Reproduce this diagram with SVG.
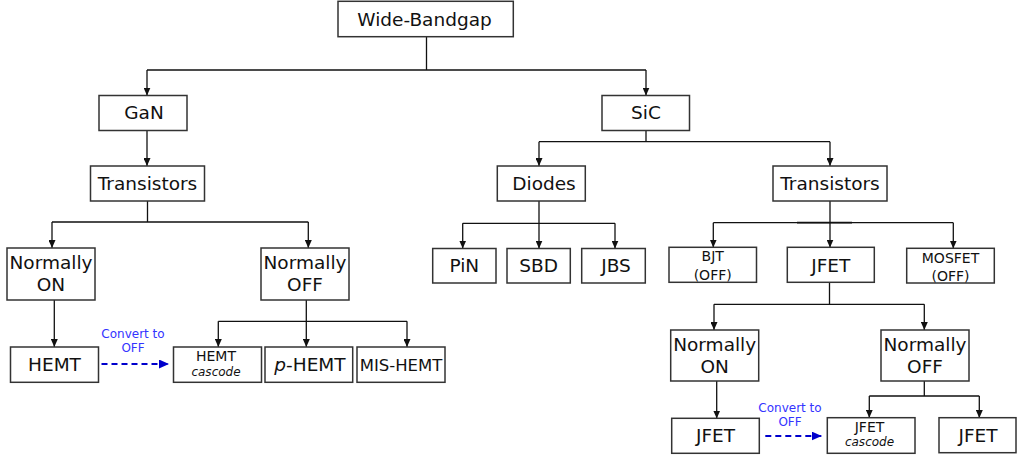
<svg xmlns="http://www.w3.org/2000/svg" width="1017" height="456" viewBox="0 0 1017 456">
<style>
.box{fill:#fff;stroke:#333;stroke-width:1.5}
.t{font-family:"DejaVu Sans",Verdana,sans-serif;font-size:18.5px;fill:#111;text-anchor:middle}
.s{font-size:14px}
.xs{font-size:12px;font-style:italic}
.c{stroke:#111;stroke-width:1.3;fill:none}
.a{marker-end:url(#ah)}
.d{stroke:#0000cc;stroke-width:2;fill:none;stroke-dasharray:6 4;marker-end:url(#bh)}
.bl{font-family:"DejaVu Sans",Verdana,sans-serif;font-size:12px;fill:#3333ff;text-anchor:middle}
</style>
<defs>
<marker id="ah" markerUnits="userSpaceOnUse" markerWidth="8" markerHeight="7" refX="8" refY="3.5" orient="auto"><path d="M0,0 L8,3.5 L0,7 z" fill="#111"/></marker>
<marker id="bh" markerUnits="userSpaceOnUse" markerWidth="10" markerHeight="9" refX="10" refY="4.5" orient="auto"><path d="M0,0 L10,4.5 L0,9 z" fill="#0000cc"/></marker>
</defs>
<rect width="1017" height="456" fill="#fff"/>
<g id="connectors">
<path class="c" d="M426.5,37 V70 M147,70 H646"/>
<path class="c a" d="M147,70 V95.5"/>
<path class="c a" d="M646,70 V95.5"/>
<path class="c a" d="M147,130.5 V166"/>
<path class="c" d="M646,130.5 V141.7 M539,141.7 H830"/>
<path class="c a" d="M539,141.7 V166"/>
<path class="c a" d="M830,141.7 V166"/>
<path class="c" d="M147.5,201 V222 M52,222 H308.3"/>
<path class="c a" d="M52,222 V248"/>
<path class="c a" d="M308.3,222 V248"/>
<path class="c a" d="M54.3,300 V347"/>
<path class="c" d="M306.3,300 V321.3 M218.3,321.3 H407"/>
<path class="c a" d="M218.3,321.3 V347"/>
<path class="c a" d="M306.3,321.3 V347"/>
<path class="c a" d="M407,321.3 V347"/>
<path class="c" d="M539,201 V223.3 M462.7,223.3 H615"/>
<path class="c a" d="M462.7,223.3 V248.5"/>
<path class="c a" d="M539,223.3 V248.5"/>
<path class="c a" d="M615,223.3 V248.5"/>
<path class="c" d="M830,201 V222.7 M713.3,222.7 H953.3"/>
<path class="c" style="stroke-width:1.7" d="M797,222.7 H852"/>
<path class="c a" d="M713.3,222.7 V247.5"/>
<path class="c a" d="M830,222.7 V247.5"/>
<path class="c a" d="M953.3,222.7 V248.5"/>
<path class="c" d="M829.5,282.5 V304.3 M714,304.3 H924.3"/>
<path class="c a" d="M714,304.3 V330"/>
<path class="c a" d="M924.3,304.3 V330"/>
<path class="c a" d="M716.7,381 V418.5"/>
<path class="c" d="M924.3,381 V396 M869.3,396 H979.3"/>
<path class="c a" d="M869.3,396 V417.7"/>
<path class="c a" d="M979.3,396 V418"/>
<path class="d" d="M101.5,364 H169"/>
<path class="d" d="M765.3,436 H821.7"/>
<text class="bl" x="133" y="337.6">Convert to</text>
<text class="bl" x="133" y="352">OFF</text>
<text class="bl" x="790" y="411.7">Convert to</text>
<text class="bl" x="790" y="426">OFF</text>
</g>
<g id="wbg"><rect class="box" x="338" y="1.3" width="175.3" height="35.4"/><text class="t" x="424.5" y="25.8">Wide-Bandgap</text></g>
<g id="gan"><rect class="box" x="99" y="95.5" width="88" height="35"/><text class="t" x="144" y="119.3">GaN</text></g>
<g id="sic"><rect class="box" x="602" y="95.5" width="87.5" height="35"/><text class="t" x="646" y="119">SiC</text></g>
<g id="gan_tr"><rect class="box" x="90.5" y="166" width="114" height="35"/><text class="t" x="147.5" y="189.7">Transistors</text></g>
<g id="diodes"><rect class="box" x="497.3" y="166" width="88" height="35"/><text class="t" x="544" y="189.5">Diodes</text></g>
<g id="sic_tr"><rect class="box" x="773" y="166" width="114" height="35"/><text class="t" x="830" y="189.7">Transistors</text></g>
<g id="gan_non"><rect class="box" x="7" y="248" width="88" height="52"/><text class="t" x="51" y="269.3">Normally</text><text class="t" x="51" y="291.3">ON</text></g>
<g id="gan_noff"><rect class="box" x="261" y="248" width="88" height="52"/><text class="t" x="305" y="269.3">Normally</text><text class="t" x="305" y="291.3">OFF</text></g>
<g id="pin"><rect class="box" x="432.7" y="248.5" width="63.3" height="34.5"/><text class="t" x="464.3" y="272.3">PiN</text></g>
<g id="sbd"><rect class="box" x="507" y="248.5" width="63.3" height="34.5"/><text class="t" x="538.7" y="272.3">SBD</text></g>
<g id="jbs"><rect class="box" x="581.7" y="248.5" width="63.6" height="34.5"/><text class="t" x="616" y="272.3">JBS</text></g>
<g id="bjt"><rect class="box" x="669" y="247.3" width="87.5" height="35"/><text class="t s" x="712.7" y="261">BJT</text><text class="t s" x="712.7" y="280">(OFF)</text></g>
<g id="jfet"><rect class="box" x="787.3" y="247.3" width="87" height="35"/><text class="t" x="830.8" y="271.5">JFET</text></g>
<g id="mosfet"><rect class="box" x="906.7" y="248.3" width="87.6" height="34.7"/><text class="t s" x="950.5" y="263">MOSFET</text><text class="t s" x="950.5" y="280.5">(OFF)</text></g>
<g id="hemt"><rect class="box" x="10.5" y="347" width="88" height="35.3"/><text class="t" x="54.5" y="370.7">HEMT</text></g>
<g id="hemt_casc"><rect class="box" x="173.5" y="347" width="88" height="35.3"/><text class="t s" x="216" y="361.3">HEMT</text><text class="t xs" x="216" y="376">cascode</text></g>
<g id="phemt"><rect class="box" x="265" y="347" width="87.7" height="35.3"/><text class="t" x="310" y="370.7"><tspan font-style="italic">p</tspan>-HEMT</text></g>
<g id="mis"><rect class="box" x="357" y="347" width="88" height="35.3"/><text class="t" style="font-size:16.5px" x="401" y="370.5">MIS-HEMT</text></g>
<g id="sic_non"><rect class="box" x="670.7" y="330" width="88" height="51"/><text class="t" x="714.7" y="351">Normally</text><text class="t" x="714.7" y="372.7">ON</text></g>
<g id="sic_noff"><rect class="box" x="881" y="330" width="88" height="51"/><text class="t" x="925" y="351">Normally</text><text class="t" x="925" y="372.7">OFF</text></g>
<g id="jfet_on"><rect class="box" x="671.7" y="418.3" width="87.6" height="35"/><text class="t" x="715.5" y="441.7">JFET</text></g>
<g id="jfet_casc"><rect class="box" x="827.3" y="417.7" width="87.7" height="35.6"/><text class="t s" x="869.5" y="431.7">JFET</text><text class="t xs" x="869.5" y="446">cascode</text></g>
<g id="jfet_off"><rect class="box" x="939" y="417.7" width="77" height="35"/><text class="t" x="978" y="441.7">JFET</text></g>
</svg>
